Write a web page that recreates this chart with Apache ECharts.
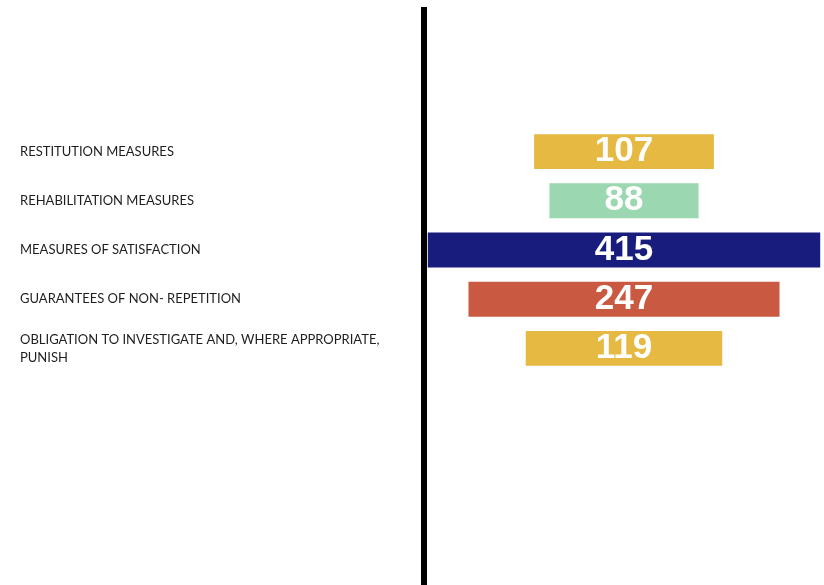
<!DOCTYPE html>
<html>
<head>
<meta charset="utf-8">
<script src="https://cdn.jsdelivr.net/npm/echarts@6/dist/echarts.min.js"></script>
<style>html,body{margin:0;padding:0;background:#fff;}#chart{width:824px;height:585px;}</style>
</head>
<body>
<div id="chart"></div>
<script>
const categories = [
  'RESTITUTION MEASURES',
  'REHABILITATION MEASURES',
  'MEASURES OF SATISFACTION',
  'GUARANTEES OF NON- REPETITION',
  'OBLIGATION TO INVESTIGATE AND, WHERE APPROPRIATE,\nPUNISH'
];
const values = [107, 88, 415, 247, 119];
const barColors = ['#E6B943', '#9BD7B1', '#171C7D', '#C95A41', '#E6B943'];

const xMin = 34, xMax = 430;

const chart = echarts.init(document.getElementById('chart'), null, {renderer: 'canvas'});
chart.setOption({
  backgroundColor: '#ffffff',
  animation: false,
  grid: {left: 426, right: 0, top: 127, bottom: 212, containLabel: false},
  xAxis: {type: 'log', min: xMin, max: xMax, show: false},
  yAxis: {
    type: 'category',
    data: categories,
    inverse: true,
    axisLine: {show: false},
    axisTick: {show: false},
    splitLine: {show: false},
    axisLabel: {
      align: 'left',
      margin: 406,
      color: '#1e1e1e',
      fontSize: 13,
      fontFamily: 'Lato',
      lineHeight: 18
    }
  },
  graphic: [{
    type: 'rect', z: 100,
    shape: {x: 421, y: 7, width: 6, height: 578},
    style: {fill: '#000000'}
  }],
  series: [{
    type: 'custom',
    data: values.map((v, i) => [v, i]),
    encode: {x: 0, y: 1},
    renderItem: function (params, api) {
      const v = api.value(0);
      const idx = api.value(1);
      const p = api.coord([v, idx]);
      const p0 = api.coord([xMin, idx]);
      const w = p[0] - p0[0];
      const h = api.size([0, 1])[1] * 0.71;
      const cx = params.coordSys.x + params.coordSys.width / 2 - 1;
      return {
        type: 'rect',
        shape: {x: cx - w / 2, y: p[1] - h / 2, width: w, height: h},
        style: {fill: barColors[idx]},
        textContent: {
          style: {
            text: String(v),
            fill: '#ffffff',
            fontSize: 35,
            fontWeight: 'bold',
            fontFamily: 'Liberation Sans'
          }
        },
        textConfig: {position: 'inside'}
      };
    }
  }]
});
</script>
</body>
</html>
